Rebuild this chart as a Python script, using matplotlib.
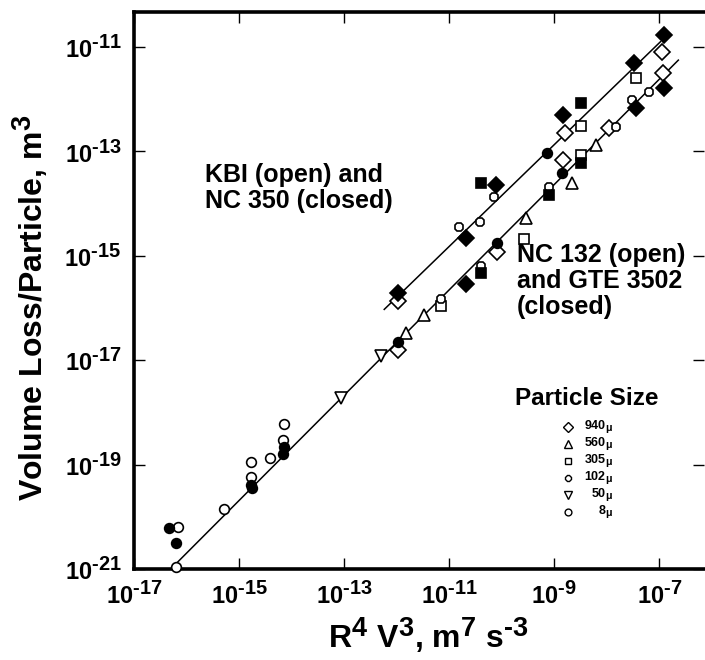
import matplotlib
matplotlib.use("Agg")
import numpy as np
import matplotlib.pyplot as plt
import matplotlib._mathtext as mathtext_mod
from matplotlib.ticker import FixedLocator, FuncFormatter, NullLocator

# exponents in the scan are almost full size
mathtext_mod.SHRINK_FACTOR = 0.85

plt.rcParams['font.family'] = ['Liberation Sans', 'DejaVu Sans']
plt.rcParams['font.weight'] = 'bold'
plt.rcParams['mathtext.fontset'] = 'custom'
plt.rcParams['mathtext.rm'] = 'Liberation Sans:bold'
plt.rcParams['mathtext.it'] = 'Liberation Sans:italic:bold'
plt.rcParams['mathtext.bf'] = 'Liberation Sans:bold'
plt.rcParams['mathtext.default'] = 'bf'

# ---- data (R^4 V^3 in m^7 s^-3, volume loss per particle in m^3) ----
# upper group: KBI (open) and NC 350 (closed)
nc350_940_x = [1.22e-7, 3.27e-8, 1.49e-9, 7.69e-11, 2.07e-11, 1.04e-12]
nc350_940_y = [1.70e-11, 4.88e-12, 4.98e-13, 2.27e-14, 2.16e-15, 1.96e-16]
nc350_305_x = [3.18e-9, 3.99e-11]
nc350_305_y = [8.34e-13, 2.45e-14]
nc350_102_x = [7.40e-10]
nc350_102_y = [9.20e-14]
kbi_305_x = [3.53e-8, 3.18e-9]
kbi_305_y = [2.51e-12, 3.07e-13]
kbi_940_x = [1.14e-7, 1.58e-9, 1.04e-12]
kbi_940_y = [8.02e-12, 2.22e-13, 1.38e-16]
kbi_102_x = [7.14e-11, 3.86e-11, 1.54e-11]
kbi_102_y = [1.36e-14, 4.50e-15, 3.61e-15]
kbi_fit_x = [5.8e-13, 1.05e-7]
kbi_fit_y = [9.4e-17, 1.26e-11]

# lower group: NC 132 (open) and GTE 3502 (closed)
gte_940_x = [1.22e-7, 3.53e-8, 2.07e-11]
gte_940_y = [1.62e-12, 6.70e-13, 2.88e-16]
gte_305_x = [3.27e-9, 7.93e-10, 3.99e-11]
gte_305_y = [5.92e-14, 1.46e-14, 4.62e-16]
gte_102_x = [1.43e-9, 8.28e-11, 1.04e-12]
gte_102_y = [3.80e-14, 1.73e-15, 2.28e-17]
gte_8_x = [4.73e-17, 6.34e-17, 1.69e-15, 1.77e-15, 7.26e-15, 6.95e-15]
gte_8_y = [6.03e-21, 3.19e-21, 4.06e-20, 3.56e-20, 2.20e-19, 1.60e-19]
nc132_940_x = [1.19e-7, 1.10e-8, 1.49e-9, 8.28e-11, 1.04e-12]
nc132_940_y = [3.13e-12, 2.77e-13, 6.84e-14, 1.20e-15, 1.57e-17]
nc132_560_x = [6.12e-9, 2.21e-9, 2.86e-10, 3.33e-12, 1.50e-12]
nc132_560_y = [1.33e-13, 2.45e-14, 5.22e-15, 7.50e-17, 3.27e-17]
nc132_305_x = [3.18e-9, 2.65e-10, 6.92e-12]
nc132_305_y = [8.53e-14, 2.07e-15, 1.11e-16]
nc132_102_x = [6.31e-8, 3.05e-8, 1.47e-8, 7.93e-10, 3.99e-11, 6.92e-12]
nc132_102_y = [1.39e-12, 9.66e-13, 2.97e-13, 2.11e-14, 6.38e-16, 1.47e-16]
nc132_50_x = [8.69e-14, 5.01e-13]
nc132_50_y = [1.86e-18, 1.20e-17]
nc132_8_x = [6.84e-17, 6.34e-17, 5.12e-16, 1.69e-15, 1.69e-15, 3.94e-15, 7.26e-15, 6.95e-15]
nc132_8_y = [6.46e-21, 1.11e-21, 1.41e-20, 1.11e-19, 5.71e-20, 1.36e-19, 5.92e-19, 2.96e-19]
nc132_fit_x = [5.5e-17, 2.3e-7]
nc132_fit_y = [1.1e-21, 5.6e-12]

sizes = ['940', '560', '305', '102', '50', '8']
xtick_exps = [-17, -15, -13, -11, -9, -7]
ytick_exps = [-21, -19, -17, -15, -13, -11]

# marker style per particle size
mk = {'940': ('D', 8), '560': ('^', 8), '305': ('s', 7),
      '102': ('8', 7), '50': ('v', 8), '8': ('o', 7)}


def pts(ax, x, y, size, filled):
	m, ms = mk[size]
	ax.plot(x, y, ls='none', marker=m, ms=ms, mec='k', mew=1.2,
		mfc='k' if filled else 'white', zorder=3, clip_on=False)


def pow10(v, pos):
	# short hyphen in the exponent like the original lettering
	return r'$10^{\text{-}%d}$' % abs(round(np.log10(v)))


fig = plt.figure(figsize=(7.05, 6.6), dpi=100)
ax = fig.add_axes([134 / 705, 91 / 660, 570 / 705, 557 / 660])
ax.set_xscale('log')
ax.set_yscale('log')
ax.set_xlim(1e-17, 10 ** -6.15)
ax.set_ylim(1e-21, 10 ** -10.33)

# fit lines
ax.plot(kbi_fit_x, kbi_fit_y, color='k', lw=1.1, zorder=2)
ax.plot(nc132_fit_x, nc132_fit_y, color='k', lw=1.1, zorder=2)

# upper group
pts(ax, kbi_305_x, kbi_305_y, '305', False)
pts(ax, kbi_940_x, kbi_940_y, '940', False)
pts(ax, kbi_102_x, kbi_102_y, '102', False)
pts(ax, nc350_940_x, nc350_940_y, '940', True)
pts(ax, nc350_305_x, nc350_305_y, '305', True)
pts(ax, nc350_102_x, nc350_102_y, '8', True)

# lower group
pts(ax, nc132_940_x, nc132_940_y, '940', False)
pts(ax, nc132_560_x, nc132_560_y, '560', False)
pts(ax, nc132_305_x, nc132_305_y, '305', False)
pts(ax, nc132_102_x, nc132_102_y, '102', False)
pts(ax, nc132_50_x, nc132_50_y, '50', False)
pts(ax, nc132_8_x, nc132_8_y, '8', False)
pts(ax, gte_940_x, gte_940_y, '940', True)
pts(ax, gte_305_x, gte_305_y, '305', True)
pts(ax, gte_102_x, gte_102_y, '8', True)
pts(ax, gte_8_x, gte_8_y, '8', True)

# axes, ticks
ax.xaxis.set_major_locator(FixedLocator([10.0 ** e for e in xtick_exps]))
ax.yaxis.set_major_locator(FixedLocator([10.0 ** e for e in ytick_exps]))
for axis in (ax.xaxis, ax.yaxis):
	axis.set_minor_locator(NullLocator())
	axis.set_major_formatter(FuncFormatter(pow10))
ax.tick_params(direction='in', length=8, width=1.0, top=True, right=True,
	labelsize=17, pad=9)
ax.spines['right'].set_visible(False)
for s in ('left', 'bottom', 'top'):
	ax.spines[s].set_linewidth(2.6)

fig.text(31 / 705, 1 - 308 / 660, r'Volume Loss/Particle, m$^3$', rotation=90,
	ha='center', va='center', fontsize=23, fontweight='bold')
fig.text(428 / 705, 1 - 636 / 660, r'R$^4$ V$^3$, m$^7$ s$^{\text{-}3}$',
	ha='center', va='center', fontsize=23, fontweight='bold')

ax.text(0.125, 0.729, 'KBI (open) and\nNC 350 (closed)', transform=ax.transAxes,
	fontsize=18, fontweight='bold', va='top', linespacing=1.1)
ax.text(0.672, 0.585, 'NC 132 (open)\nand GTE 3502\n(closed)', transform=ax.transAxes,
	fontsize=18, fontweight='bold', va='top', linespacing=1.1)

# particle size key
ax.text(0.795, 0.307, 'Particle Size', transform=ax.transAxes, fontsize=17.5,
	fontweight='bold', ha='center', va='center')
for i, s in enumerate(sizes):
	yy = 0.255 - i * 0.0305
	m, ms = mk[s]
	ax.plot([0.761], [yy], transform=ax.transAxes, ls='none', marker=m,
		ms=ms * 0.7, mfc='white', mec='k', mew=1.0)
	ax.text(0.840, yy, s + r'$_\mu$', transform=ax.transAxes, fontsize=9,
		fontweight='bold', ha='right', va='center')

fig.savefig('out.png', dpi=100)
